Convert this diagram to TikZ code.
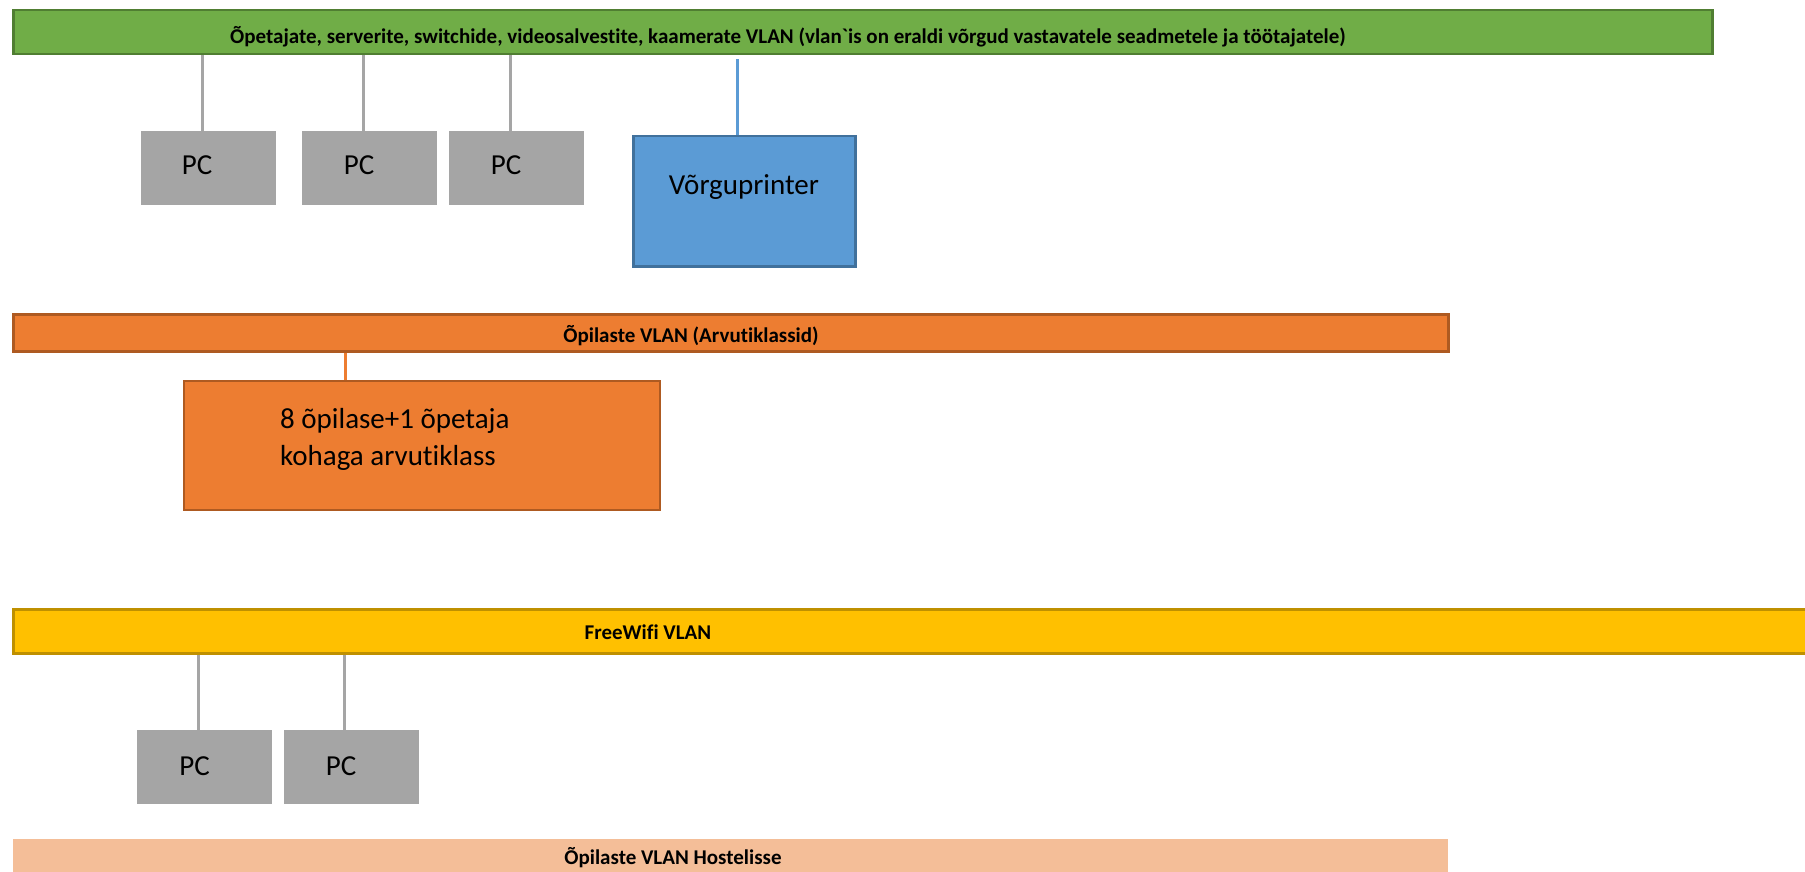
\documentclass[tikz,border=0pt]{standalone}
\usepackage{fontspec}
\setmainfont{Carlito}[Ligatures=NoCommon]
\newfontfamily\barfont{Carlito}[Ligatures={TeXOff,NoCommon}]
\usetikzlibrary{positioning}
\definecolor{vgreen}{HTML}{70AD47}
\definecolor{vgreenb}{HTML}{507E32}
\definecolor{vorange}{HTML}{ED7D31}
\definecolor{vorangeb}{HTML}{AE5A21}
\definecolor{vyellow}{HTML}{FFC000}
\definecolor{vyellowb}{HTML}{BF9000}
\definecolor{vblue}{HTML}{5B9BD5}
\definecolor{vblueb}{HTML}{41719C}
\definecolor{vgray}{HTML}{A5A5A5}
\definecolor{vpeach}{HTML}{F4BE98}
\tikzset{
  box/.style={rectangle, inner sep=0pt, anchor=north west},
  bar/.style={box, line width=2.5pt},
  pcbox/.style={box, fill=vgray, minimum width=135pt, minimum height=74pt},
  bartext/.style={anchor=base, inner sep=0pt, font=\barfont\fontsize{21}{24}\selectfont\bfseries},
  bigtext/.style={anchor=base, inner sep=0pt, font=\fontsize{29}{34}\selectfont},
  conn/.style={line width=3pt},
}
\begin{document}
\begin{tikzpicture}[x=1pt,y=-1pt]
\clip (0,0) rectangle (1805,872);
\fill[white] (0,0) rectangle (1805,872);
% bars
\node[bar, fill=vgreen, draw=vgreenb, minimum width=1699pt, minimum height=44pt] (green) at (12,9) {};
\node[bartext] (greent) at (788,43.5) {Õpetajate, serverite, switchide, videosalvestite, kaamerate VLAN (vlan`is on eraldi võrgud vastavatele seadmetele ja töötajatele)};
\node[bar, fill=vorange, draw=vorangeb, minimum width=1435pt, minimum height=37pt] (orange) at (12,313) {};
\node[bartext] (oranget) at (691,342) {Õpilaste VLAN (Arvutiklassid)};
\node[bar, fill=vyellow, draw=vyellowb, minimum width=1850pt, minimum height=44pt] (yellow) at (12,608) {};
\node[bartext] (yellowt) at (648,639) {FreeWifi VLAN};
\node[box, fill=vpeach, minimum width=1435pt, minimum height=60pt] (peach) at (13,839) {};
\node[bartext] (peacht) at (673,864) {Õpilaste VLAN Hostelisse};
% top PCs
\node[pcbox] (pc1) at (141,131) {};
\node[pcbox] (pc2) at (302,131) {};
\node[pcbox] (pc3) at (449,131) {};
\node[bigtext] (pc1t) at (197,175) {PC};
\node[bigtext] (pc2t) at (359,175) {PC};
\node[bigtext] (pc3t) at (506,175) {PC};
% printer
\node[box, fill=vblue, draw=vblueb, line width=2.5pt, minimum width=222pt, minimum height=130pt] (printer) at (632,135) {};
\node[bigtext] (printert) at (744,194) {Võrguprinter};
% class box
\node[box, fill=vorange, draw=vorangeb, line width=2pt, minimum width=476pt, minimum height=129pt] (klass) at (183,380) {};
\node[bigtext, anchor=base west] (klasst1) at (280,428) {8 õpilase+1 õpetaja};
\node[bigtext, anchor=base west] (klasst2) at (280,465.5) {kohaga arvutiklass};
% bottom PCs
\node[pcbox] (pc4) at (137,730) {};
\node[pcbox] (pc5) at (284,730) {};
\node[bigtext] (pc4t) at (194.5,775) {PC};
\node[bigtext] (pc5t) at (341,775) {PC};
% connectors
\coordinate (c1) at (202,0);
\coordinate (c2) at (363,0);
\coordinate (c3) at (510,0);
\coordinate (c4) at (737,0);
\coordinate (c5) at (345,0);
\coordinate (c6) at (198,0);
\coordinate (c7) at (344.5,0);
\draw[conn, vgray] (green.south -| c1) -- (pc1.north -| c1);
\draw[conn, vgray] (green.south -| c2) -- (pc2.north -| c2);
\draw[conn, vgray] (green.south -| c3) -- (pc3.north -| c3);
\draw[conn, vblue] ([yshift=-4pt]green.south -| c4) -- (printer.north -| c4);
\draw[conn, vorange] (orange.south -| c5) -- (klass.north -| c5);
\draw[conn, vgray] (yellow.south -| c6) -- (pc4.north -| c6);
\draw[conn, vgray] (yellow.south -| c7) -- (pc5.north -| c7);
\end{tikzpicture}
\end{document}
